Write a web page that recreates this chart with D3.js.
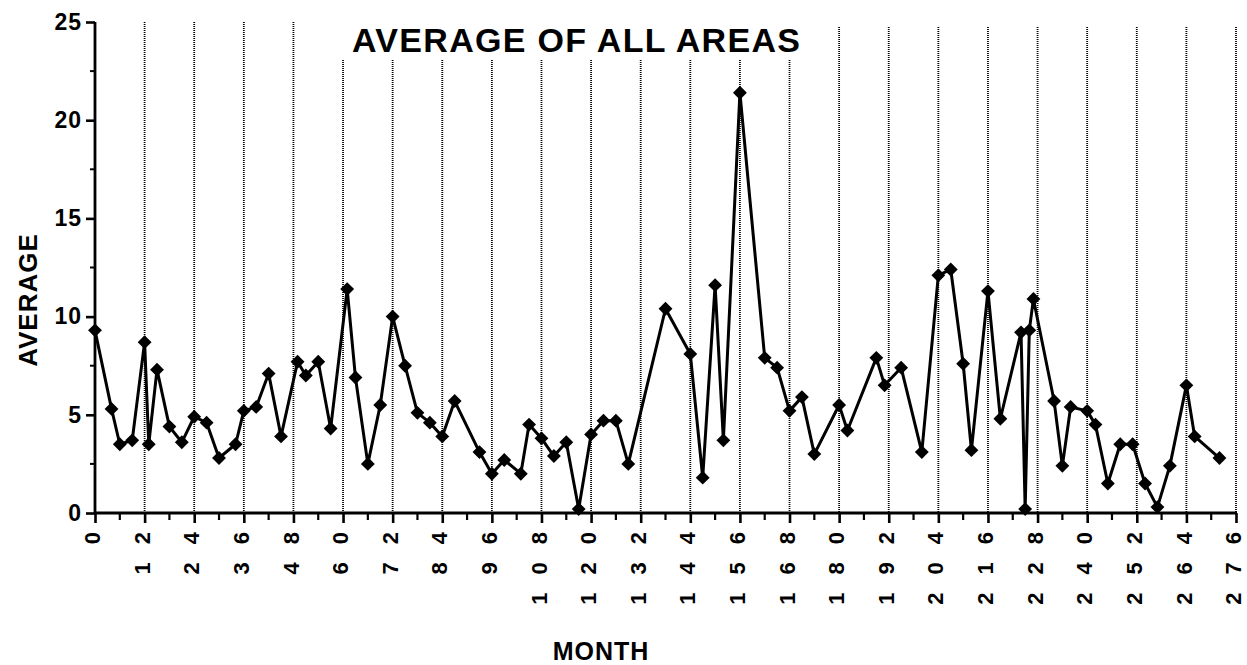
<!DOCTYPE html>
<html>
<head>
<meta charset="utf-8">
<script src="https://cdn.jsdelivr.net/npm/d3@7/dist/d3.min.js"></script>
<style>
  html, body { margin: 0; padding: 0; background: #fff; }
  svg { display: block; }
  text { font-family: "Liberation Sans", Arial, Helvetica, sans-serif; fill: #000; }
</style>
</head>
<body>
<svg id="chart" width="1247" height="665"></svg>
<script>
// Sampling month of each observation
const months = [
  0, 4, 6, 9, 12, 13, 15, 18, 21, 24, 27, 30, 34, 36, 39, 42, 45, 49, 51, 54,
  57, 61, 63, 66, 69, 72, 75, 78, 81, 84, 87, 93, 96, 99, 103, 105, 108, 111, 114, 117,
  120, 123, 126, 129, 138, 144, 147, 150, 152, 156, 162, 165, 168, 171, 174, 180, 182, 189, 191, 195,
  200, 204, 207, 210, 212, 216, 219, 224, 225, 226, 227, 232, 234, 236, 240, 242, 245, 248, 251, 254,
  257, 260, 264, 266, 272
];
// Average over all areas for that month
const averages = [
  9.3, 5.3, 3.5, 3.7, 8.7, 3.5, 7.3, 4.4, 3.6, 4.9, 4.6, 2.8, 3.5, 5.2, 5.4, 7.1, 3.9, 7.7, 7.0, 7.7,
  4.3, 11.4, 6.9, 2.5, 5.5, 10.0, 7.5, 5.1, 4.6, 3.9, 5.7, 3.1, 2.0, 2.7, 2.0, 4.5, 3.8, 2.9, 3.6, 0.2,
  4.0, 4.7, 4.7, 2.5, 10.4, 8.1, 1.8, 11.6, 3.7, 21.4, 7.9, 7.4, 5.2, 5.9, 3.0, 5.5, 4.2, 7.9, 6.5, 7.4,
  3.1, 12.1, 12.4, 7.6, 3.2, 11.3, 4.8, 9.2, 0.2, 9.3, 10.9, 5.7, 2.4, 5.4, 5.2, 4.5, 1.5, 3.5, 3.5, 1.5,
  0.3, 2.4, 6.5, 3.9, 2.8
];
const xTicks = [0, 12, 24, 36, 48, 60, 72, 84, 96, 108, 120, 132, 144, 156, 168, 180, 192, 204, 216, 228, 240, 252, 264, 276];
const xMinorTicks = [6, 18, 30, 42, 54, 66, 78, 90, 102, 114, 126, 138, 150, 162, 174, 186, 198, 210, 222, 234, 246, 258, 270];
const yTicks = [0, 5, 10, 15, 20, 25];
const yMinorTicks = [2.5, 7.5, 12.5, 17.5, 22.5];

const title = "AVERAGE OF ALL AREAS";
const xTitle = "MONTH";
const yTitle = "AVERAGE";

const svg = d3.select("#chart");

const x = d3.scaleLinear().domain([0, 276]).range([95, 1236]);
const y = d3.scaleLinear().domain([0, 25]).range([513, 22]);

const points = months.map((m, i) => ({ m, v: averages[i] }));

// Vertical dotted reference lines at each year
svg.append("g")
  .selectAll("line")
  .data(xTicks.filter(d => d > 0))
  .join("line")
  .attr("x1", d => x(d)).attr("x2", d => x(d))
  .attr("y1", d => d >= 180 ? y(25) + 5 : y(25)).attr("y2", y(0))
  .attr("stroke", "#000")
  .attr("stroke-width", 1.8)
  .attr("stroke-dasharray", "1,1");

// Title with a white backing that covers the reference lines
svg.append("rect")
  .attr("x", 336).attr("y", 0).attr("width", 468).attr("height", 60)
  .attr("fill", "#fff");
svg.append("text")
  .attr("x", 352).attr("y", 52)
  .attr("font-size", 34)
  .attr("font-weight", "bold")
  .attr("textLength", 448)
  .attr("lengthAdjust", "spacing")
  .text(title);

// Y axis
const yAxis = svg.append("g").attr("transform", `translate(${x(0)},0)`);
yAxis.call(d3.axisLeft(y).tickValues(yTicks).tickSize(9).tickPadding(4).tickFormat(d3.format("d")));
yAxis.selectAll("line.minor").data(yMinorTicks).join("line")
  .attr("class", "minor")
  .attr("x1", -5).attr("x2", 0)
  .attr("y1", d => y(d)).attr("y2", d => y(d))
  .attr("stroke", "#000").attr("stroke-width", 2);
yAxis.select(".domain").attr("stroke-width", 2.8).attr("d", `M0,${y(25)}V${y(0) + 1}`);
yAxis.selectAll(".tick line").attr("stroke-width", 2.6);
yAxis.selectAll(".tick text")
  .attr("font-size", 23)
  .attr("font-weight", "bold")
  .attr("font-family", "\"Liberation Sans\", Arial, sans-serif")
  .style("letter-spacing", "1px");

// X axis
const xAxis = svg.append("g").attr("transform", `translate(0,${y(0)})`);
xAxis.call(d3.axisBottom(x).tickValues(xTicks).tickSize(10).tickFormat(d3.format("d")));
xAxis.select(".domain").attr("stroke-width", 3).attr("d", `M${x(0) - 1},0H${x(276) + 1}`);
xAxis.selectAll(".tick line").attr("stroke-width", 2.6);
xAxis.selectAll("line.minor").data(xMinorTicks).join("line")
  .attr("class", "minor")
  .attr("x1", d => x(d)).attr("x2", d => x(d))
  .attr("y1", 0).attr("y2", 7)
  .attr("stroke", "#000").attr("stroke-width", 2.2);

// Rotated month labels, read bottom to top, with wide digit spacing
const labelSpacing = 18;
xAxis.selectAll(".tick text")
  .attr("font-size", 22)
  .attr("font-weight", "bold")
  .attr("font-family", "\"Liberation Sans\", Arial, sans-serif")
  .style("letter-spacing", labelSpacing + "px")
  .attr("text-anchor", "end")
  .attr("transform", "translate(-2,19) rotate(-90)")
  .attr("x", labelSpacing)
  .attr("y", 0)
  .attr("dy", "0.3em");

// Axis titles
svg.append("text")
  .attr("x", 601).attr("y", 660)
  .attr("text-anchor", "middle")
  .attr("font-size", 25)
  .attr("font-weight", "bold")
  .style("letter-spacing", "1px")
  .text(xTitle);

svg.append("text")
  .attr("transform", "translate(37,300) rotate(-90)")
  .attr("text-anchor", "middle")
  .attr("font-size", 26)
  .attr("font-weight", "bold")
  .style("letter-spacing", "1px")
  .text(yTitle);

// Series line
const line = d3.line().x(d => x(d.m)).y(d => y(d.v));
svg.append("path")
  .datum(points)
  .attr("fill", "none")
  .attr("stroke", "#000")
  .attr("stroke-width", 3)
  .attr("stroke-linejoin", "round")
  .attr("d", line);

// Diamond markers
const diamond = d3.symbol().type(d3.symbolSquare).size(96);
svg.append("g")
  .selectAll("path")
  .data(points)
  .join("path")
  .attr("transform", d => `translate(${x(d.m)},${y(d.v)}) rotate(45)`)
  .attr("d", diamond)
  .attr("fill", "#000");
</script>
</body>
</html>
